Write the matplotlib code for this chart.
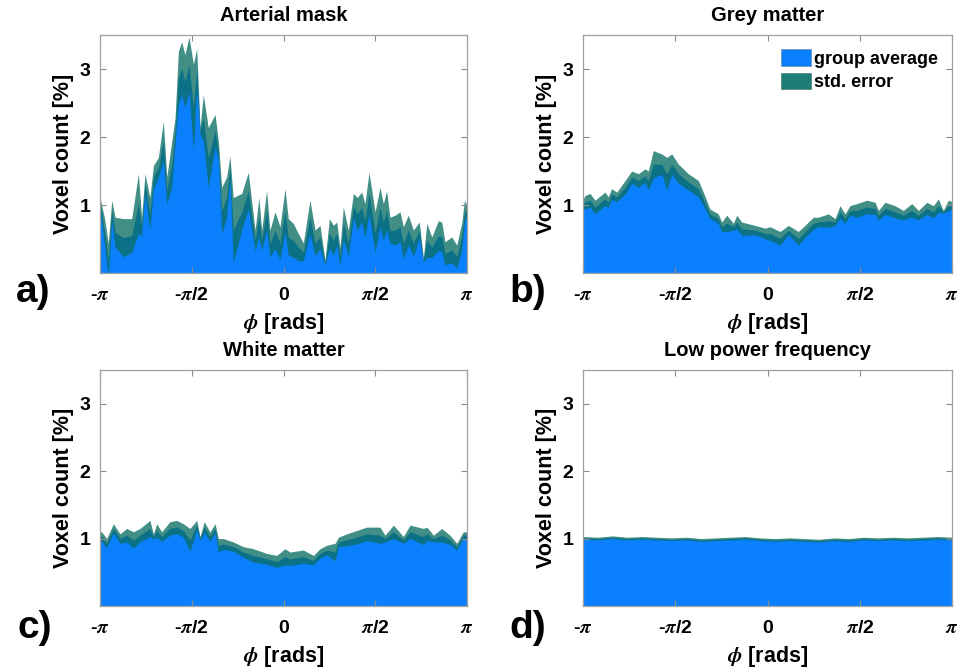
import numpy as np
import matplotlib
matplotlib.use("Agg")
import matplotlib.pyplot as plt
from matplotlib.patches import Patch

plt.rcParams['font.family'] = ['Liberation Sans', 'DejaVu Sans']
plt.rcParams['font.weight'] = 'bold'
plt.rcParams['mathtext.fontset'] = 'custom'
plt.rcParams['mathtext.it'] = 'STIXGeneral:italic'
plt.rcParams['mathtext.rm'] = 'STIXGeneral'

BLUE = '#0A80FF'
TEAL = '#0B6E66'

# phase bins in units of pi, group mean and upper edge of std. error band (%)
art_phi = [-1.000, -0.975, -0.955, -0.936, -0.918, -0.873, -0.827, -0.791, -0.773, -0.755,
           -0.728, -0.709, -0.682, -0.655, -0.636, -0.609, -0.591, -0.573, -0.555, -0.537,
           -0.515, -0.491, -0.473, -0.455, -0.437, -0.410, -0.373, -0.355, -0.337, -0.310,
           -0.292, -0.274, -0.228, -0.192, -0.155, -0.134, -0.119, -0.092, -0.074, -0.046,
           -0.019, 0.008, 0.026, 0.053, 0.081, 0.108, 0.144, 0.172, 0.199, 0.226,
           0.250, 0.272, 0.290, 0.308, 0.326, 0.353, 0.381, 0.402, 0.426, 0.444,
           0.466, 0.499, 0.526, 0.544, 0.562, 0.580, 0.608, 0.635, 0.653, 0.680,
           0.708, 0.740, 0.762, 0.781, 0.808, 0.844, 0.862, 0.880, 0.917, 0.944,
           0.971, 0.986, 1.000]
art_mean = [1.02, 0.60, 0.19, 0.92, 0.60, 0.52, 0.55, 1.02, 0.68, 1.31,
            0.87, 1.41, 1.55, 1.94, 1.21, 1.60, 2.09, 2.87, 3.01, 2.82,
            3.07, 2.43, 3.01, 2.09, 2.28, 1.70, 2.09, 1.80, 0.92, 1.11,
            1.55, 0.63, 0.90, 1.21, 0.48, 0.82, 0.48, 0.92, 0.43, 0.63,
            0.44, 0.92, 0.53, 0.48, 0.38, 0.31, 0.82, 0.44, 0.53, 0.15,
            0.58, 0.48, 0.58, 0.24, 0.73, 0.44, 0.99, 0.87, 0.97, 0.77,
            1.17, 0.60, 0.97, 0.75, 0.92, 0.63, 0.63, 0.68, 0.44, 0.63,
            0.44, 0.63, 0.19, 0.48, 0.38, 0.55, 0.53, 0.29, 0.34, 0.24,
            0.53, 0.90, 0.92]
art_upper = [1.11, 0.80, 0.44, 1.07, 0.82, 0.80, 0.80, 1.46, 0.82, 1.46,
             1.11, 1.58, 1.70, 2.23, 1.41, 1.94, 2.28, 3.26, 3.40, 3.21,
             3.47, 3.07, 3.30, 2.14, 2.62, 2.14, 2.33, 1.94, 1.26, 1.41,
             1.72, 1.11, 1.17, 1.48, 0.63, 1.11, 0.63, 1.21, 0.63, 0.90,
             0.68, 1.24, 0.80, 0.73, 0.58, 0.44, 1.07, 0.63, 0.70, 0.19,
             0.80, 0.70, 0.75, 0.38, 0.97, 0.63, 1.17, 1.11, 1.19, 1.02,
             1.48, 0.90, 1.26, 1.02, 1.21, 0.82, 0.85, 0.90, 0.68, 0.85,
             0.63, 0.75, 0.22, 0.73, 0.53, 0.77, 0.75, 0.46, 0.53, 0.41,
             0.73, 1.07, 0.99]

grey_phi = [-1.000, -0.989, -0.962, -0.935, -0.881, -0.863, -0.845, -0.817, -0.772, -0.736,
            -0.700, -0.664, -0.646, -0.619, -0.573, -0.546, -0.519, -0.483, -0.429, -0.375,
            -0.348, -0.312, -0.267, -0.248, -0.221, -0.185, -0.167, -0.140, -0.068, -0.041,
            -0.014, 0.014, 0.068, 0.113, 0.167, 0.203, 0.248, 0.275, 0.330, 0.366,
            0.393, 0.420, 0.447, 0.484, 0.538, 0.583, 0.601, 0.637, 0.691, 0.736,
            0.782, 0.818, 0.863, 0.899, 0.926, 0.953, 0.980, 1.000]
grey_mean = [1.02, 1.04, 1.07, 0.97, 1.09, 1.04, 1.16, 1.12, 1.26, 1.41,
             1.36, 1.43, 1.36, 1.60, 1.60, 1.46, 1.60, 1.46, 1.34, 1.24,
             1.09, 0.87, 0.80, 0.68, 0.73, 0.68, 0.75, 0.65, 0.63, 0.61,
             0.58, 0.58, 0.51, 0.63, 0.51, 0.61, 0.73, 0.75, 0.77, 0.75,
             0.90, 0.80, 0.92, 0.92, 0.97, 0.95, 0.85, 0.95, 0.90, 0.85,
             0.92, 0.85, 0.95, 0.90, 0.99, 0.90, 0.99, 1.00]
grey_upper = [1.08, 1.14, 1.17, 1.07, 1.19, 1.12, 1.24, 1.19, 1.36, 1.50,
              1.46, 1.53, 1.50, 1.80, 1.75, 1.70, 1.75, 1.60, 1.46, 1.36,
              1.19, 0.94, 0.87, 0.75, 0.85, 0.73, 0.85, 0.75, 0.70, 0.68,
              0.66, 0.68, 0.61, 0.70, 0.61, 0.70, 0.82, 0.82, 0.87, 0.80,
              0.99, 0.87, 0.99, 1.02, 1.07, 1.04, 0.92, 1.04, 0.99, 0.92,
              1.02, 0.92, 1.04, 0.99, 1.09, 0.92, 1.07, 1.05]

white_phi = [-1.000, -0.991, -0.964, -0.927, -0.891, -0.855, -0.818, -0.782, -0.728, -0.709,
             -0.691, -0.664, -0.619, -0.582, -0.546, -0.510, -0.473, -0.455, -0.432, -0.401,
             -0.373, -0.355, -0.328, -0.274, -0.219, -0.165, -0.092, -0.037, 0.008, 0.035,
             0.108, 0.163, 0.199, 0.235, 0.281, 0.299, 0.344, 0.399, 0.453, 0.526,
             0.553, 0.599, 0.653, 0.690, 0.762, 0.781, 0.817, 0.862, 0.907, 0.944,
             0.980, 1.000]
white_mean = [1.05, 1.03, 0.93, 1.15, 1.00, 1.05, 0.98, 1.05, 1.15, 1.03,
              1.12, 1.03, 1.15, 1.17, 1.12, 0.98, 1.20, 1.00, 1.17, 1.03,
              1.15, 0.90, 0.92, 0.88, 0.80, 0.75, 0.70, 0.66, 0.73, 0.70,
              0.73, 0.68, 0.78, 0.83, 0.80, 0.95, 0.98, 1.02, 1.07, 1.05,
              1.00, 1.10, 0.98, 1.10, 1.03, 1.07, 1.00, 1.05, 0.98, 0.88,
              1.05, 1.05]
white_upper = [1.10, 1.10, 1.00, 1.22, 1.07, 1.15, 1.10, 1.15, 1.27, 1.07,
               1.22, 1.10, 1.25, 1.27, 1.22, 1.15, 1.27, 1.03, 1.25, 1.10,
               1.22, 1.00, 1.00, 0.95, 0.88, 0.85, 0.78, 0.75, 0.85, 0.80,
               0.83, 0.75, 0.85, 0.90, 0.93, 1.02, 1.07, 1.12, 1.17, 1.17,
               1.05, 1.20, 1.03, 1.20, 1.15, 1.17, 1.05, 1.15, 1.05, 0.93,
               1.10, 1.10]

low_phi = [-1.00, -0.92, -0.84, -0.76, -0.68, -0.60, -0.52, -0.44, -0.36, -0.28,
           -0.20, -0.12, -0.04, 0.04, 0.12, 0.20, 0.28, 0.36, 0.44, 0.52,
           0.60, 0.68, 0.76, 0.84, 0.92, 1.00]
low_mean = [1.01, 1.00, 1.02, 1.00, 1.01, 1.00, 0.99, 1.00, 0.98, 0.99,
            1.00, 1.01, 0.99, 0.98, 0.99, 0.98, 0.97, 0.99, 0.98, 1.00,
            0.99, 1.00, 0.99, 1.00, 1.01, 1.00]
low_upper = [1.03, 1.02, 1.04, 1.02, 1.03, 1.02, 1.01, 1.02, 1.00, 1.01,
             1.02, 1.03, 1.01, 1.00, 1.01, 1.00, 0.99, 1.01, 1.00, 1.02,
             1.01, 1.02, 1.01, 1.02, 1.03, 1.02]

XTICKLABELS = ['-$\\pi$', '-$\\pi$/2', '0', '$\\pi$/2', '$\\pi$']


def draw_panel(ax, phi, mean, upper, title):
    x = np.array(phi) * np.pi
    m = np.array(mean)
    up = np.array(upper)
    lo = 2 * m - up
    ax.fill_between(x, 0, m, color=BLUE, lw=0)
    ax.fill_between(x, lo, up, color=TEAL, alpha=0.78, lw=0)
    ax.set_xlim(-np.pi, np.pi)
    ax.set_ylim(0, 3.5)
    ax.set_xticks([-np.pi, -np.pi / 2, 0, np.pi / 2, np.pi])
    ax.set_xticklabels(XTICKLABELS)
    ax.set_yticks([1, 2, 3])
    ax.tick_params(direction='in', top=True, right=True, length=4,
                   color='#8c8c8c', labelsize=14, pad=7)
    ax.tick_params(axis='x', pad=10)
    for sp in ax.spines.values():
        sp.set_color('#a0a0a0')
        sp.set_linewidth(0.9)
    ax.set_title(title, fontsize=14.5, fontweight='bold', pad=10)
    ax.set_ylabel('Voxel count [%]', fontsize=15.5, fontweight='bold', labelpad=4)
    ax.set_xlabel('$\\phi$ [rads]', fontsize=15.5, fontweight='bold', labelpad=5)


fig = plt.figure(figsize=(9.57, 6.67), dpi=100)
W, H = 957, 667
boxes = [(100, 35, 367, 238), (583, 35, 369, 238),
         (100, 370, 367, 236), (583, 370, 369, 236)]
axes = [fig.add_axes([l / W, 1 - (t + h) / H, w / W, h / H]) for l, t, w, h in boxes]

draw_panel(axes[0], art_phi, art_mean, art_upper, 'Arterial mask')
draw_panel(axes[1], grey_phi, grey_mean, grey_upper, 'Grey matter')
draw_panel(axes[2], white_phi, white_mean, white_upper, 'White matter')
draw_panel(axes[3], low_phi, low_mean, low_upper, 'Low power frequency')

handles = [Patch(facecolor=BLUE, edgecolor='#6a8fb0', lw=0.5),
           Patch(facecolor='#1E7D74', edgecolor='#4f7f7a', lw=0.5)]
axes[1].legend(handles, ['group average', 'std. error'], loc='upper right',
               frameon=False, fontsize=13, handlelength=1.65, handleheight=1.0,
               handletextpad=0.15, labelspacing=0.3, borderaxespad=0.4)

for lab, (px, py) in zip(['a)', 'b)', 'c)', 'd)'],
                         [(33, 292), (528, 292), (35, 628), (528, 628)]):
    fig.text(px / W, 1 - py / H, lab, fontsize=28, fontweight='bold',
             ha='center', va='center')

fig.savefig('out.png', dpi=100)
